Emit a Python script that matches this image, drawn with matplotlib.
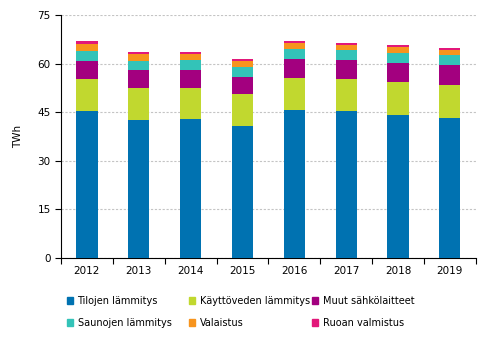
import matplotlib.pyplot as plt
import matplotlib.patches as mpatches
import numpy as np
from matplotlib.ticker import FixedLocator, NullFormatter

years = ['2012', '2013', '2014', '2015', '2016', '2017', '2018', '2019']

# TWh per end use
tilojen = [45.4, 42.6, 42.9, 40.7, 45.7, 45.4, 44.1, 43.2]
kayttoveden = [9.8, 9.9, 9.6, 9.9, 9.9, 9.8, 10.2, 10.2]
muut = [5.6, 5.5, 5.5, 5.3, 5.8, 5.9, 5.9, 6.2]
saunojen = [3.1, 2.8, 3.1, 3.0, 3.1, 3.1, 3.1, 3.1]
valaistus = [2.1, 2.2, 1.9, 1.9, 1.9, 1.5, 1.8, 1.5]
ruoan = [1.0, 0.6, 0.6, 0.6, 0.6, 0.7, 0.6, 0.6]

series = [
    ('Tilojen lämmitys', tilojen, '#0072B1'),
    ('Käyttöveden lämmitys', kayttoveden, '#C1D82F'),
    ('Muut sähkölaitteet', muut, '#A3007F'),
    ('Saunojen lämmitys', saunojen, '#33C3B8'),
    ('Valaistus', valaistus, '#F7941D'),
    ('Ruoan valmistus', ruoan, '#E2187A'),
]

plt.rcParams['font.family'] = 'DejaVu Sans'
plt.rcParams['font.size'] = 7.5

fig = plt.figure(figsize=(4.92, 3.4), dpi=100)
ax = fig.add_axes([0.124, 0.241, 0.843, 0.715])

x = np.arange(len(years))
bottom = np.zeros(len(years))
handles = {}
for name, vals, col in series:
    ax.bar(x, vals, width=0.41, bottom=bottom, color=col, zorder=3)
    bottom += np.array(vals)
    handles[name] = mpatches.Patch(color=col, label=name)

ax.set_xlim(-0.5, len(years) - 0.5)
ax.set_ylim(0, 75)
ax.set_yticks([0, 15, 30, 45, 60, 75])
ax.yaxis.grid(True, color='#c4c4c4', linestyle=(0, (2, 1.5)), linewidth=0.8, zorder=0)
ax.set_ylabel('TWh', labelpad=10)

ax.set_xticks(x)
ax.set_xticklabels(years)
ax.tick_params(axis='x', which='major', length=0, pad=6)
ax.xaxis.set_minor_locator(FixedLocator(np.arange(-0.5, len(years), 1.0)))
ax.xaxis.set_minor_formatter(NullFormatter())
ax.tick_params(axis='x', which='minor', length=4, width=0.8)
ax.tick_params(axis='y', length=4, width=0.8)

ax.spines['top'].set_visible(False)
ax.spines['right'].set_visible(False)

# legend: three fixed-width columns, two rows
columns = [['Tilojen lämmitys', 'Saunojen lämmitys'],
           ['Käyttöveden lämmitys', 'Valaistus'],
           ['Muut sähkölaitteet', 'Ruoan valmistus']]
col_x = [0.118, 0.366, 0.616]
for names, cx in zip(columns, col_x):
    fig.legend([handles[n] for n in names], names, ncol=1, frameon=False,
               loc='upper left', bbox_to_anchor=(cx, 0.156),
               handlelength=0.65, handleheight=0.65, handletextpad=0.45,
               labelspacing=1.25, fontsize=7.0)

plt.savefig('out.png', dpi=100)
